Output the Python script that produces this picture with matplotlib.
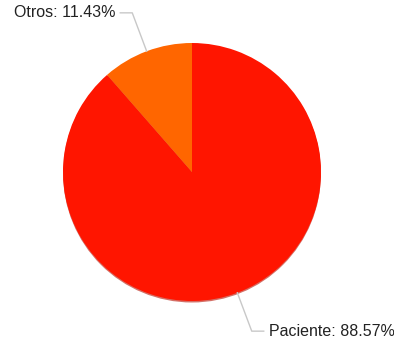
import numpy as np
import matplotlib
matplotlib.use("Agg")
import matplotlib.pyplot as plt
from matplotlib.patches import Circle

labels = ["Paciente", "Otros"]
values = [88.57, 11.43]
colors = ["#FF1500", "#FF6600"]

W, H = 394, 347
cx, cy, R = 192, H - 172, 129

fig = plt.figure(figsize=(W / 100, H / 100), dpi=100)
ax = fig.add_axes([0, 0, 1, 1])
ax.set_xlim(0, W)
ax.set_ylim(0, H)
ax.set_aspect("equal")
ax.axis("off")

# soft shadow under the pie
ax.add_patch(Circle((cx, cy - 1.5), R, color="#B81000", alpha=0.6, zorder=1, lw=0))

wedges, _ = ax.pie(values, colors=colors, startangle=90, counterclock=False,
                   center=(cx, cy), radius=R, frame=True,
                   wedgeprops=dict(linewidth=0, zorder=2))
ax.set_xlim(0, W)
ax.set_ylim(0, H)
ax.axis("off")

for w, lab, v in zip(wedges, labels, values):
    mid = np.deg2rad((w.theta1 + w.theta2) / 2)
    x0, y0 = cx + R * np.cos(mid), cy + R * np.sin(mid)
    x1, y1 = cx + 170 * np.cos(mid), cy + 170 * np.sin(mid)
    side = 1 if np.cos(mid) > 0 else -1
    x2 = x1 + side * 12
    ax.plot([x0, x1, x2], [y0, y1, y1], color="#C8C8C8", lw=1, zorder=3)
    ax.text(x2 + side * 5, y1, f"{lab}: {v:.2f}%", fontsize=11.5,
            family="Liberation Sans", color="#222222",
            ha="left" if side > 0 else "right", va="center")

fig.savefig("out.png", dpi=100)
